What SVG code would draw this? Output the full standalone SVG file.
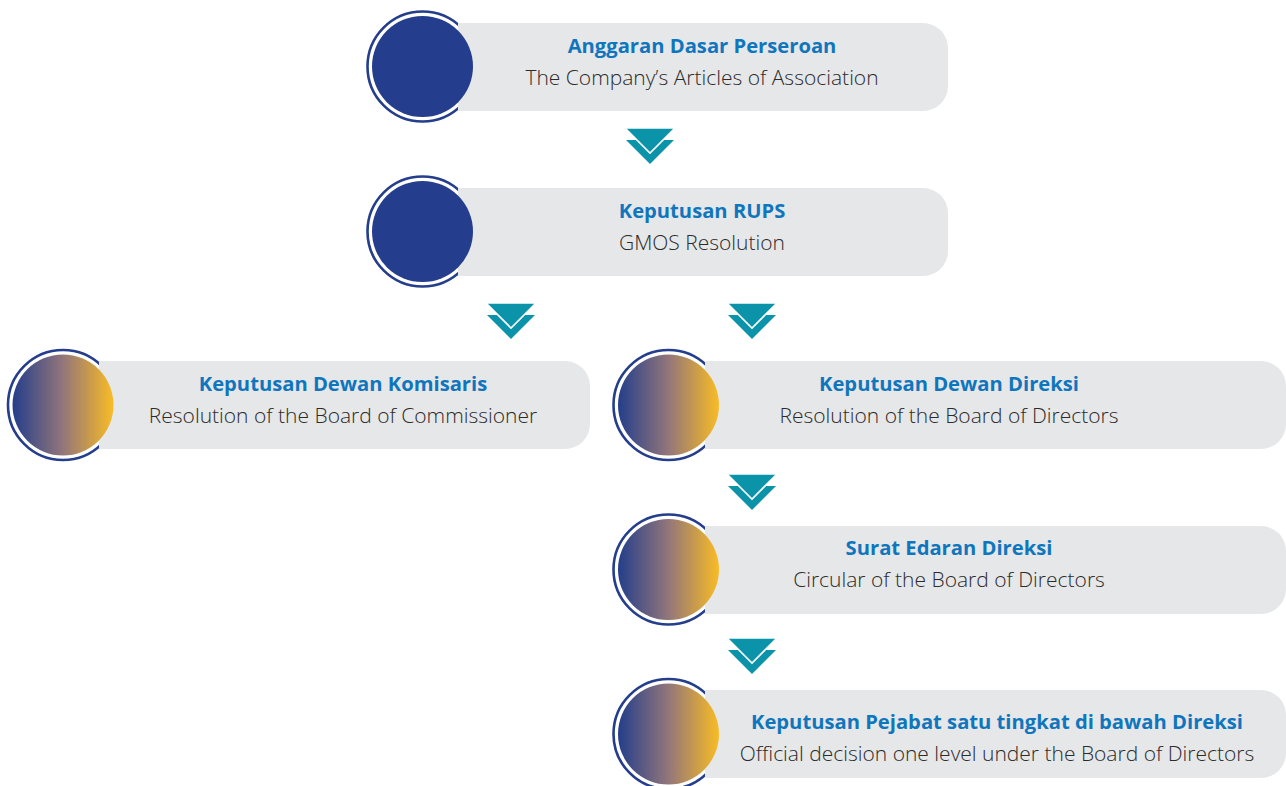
<svg xmlns="http://www.w3.org/2000/svg" xmlns:xlink="http://www.w3.org/1999/xlink" width="1286" height="786" viewBox="0 0 1286 786">
  <style>
    .ring { fill: none; stroke: #243d8c; stroke-width: 2.6; }
    .box { fill: #e6e7e8; }
    .solid { fill: #243d8c; }
    .grad { fill: url(#warm); }
    .title { font-family: "Open Sans", "Noto Sans", "Liberation Sans", sans-serif; font-weight: 700; font-size: 20.2px; fill: #0f76bd; text-anchor: middle; }
    .sub { font-family: "Open Sans", "Noto Sans", "Liberation Sans", sans-serif; font-weight: 300; font-size: 21px; fill: #2b2b2b; text-anchor: middle; }
    .arrow { fill: #0b94a9; }
    .arrow-top { fill: #0b94a9; stroke: #ffffff; stroke-width: 1.6; stroke-linejoin: miter; }
  </style>
  <defs>
    <linearGradient id="warm" x1="0" y1="0" x2="1" y2="0">
      <stop offset="0" stop-color="#243e8b"/>
      <stop offset="0.5" stop-color="#93767a"/>
      <stop offset="1" stop-color="#f8bc25"/>
    </linearGradient>
    <!-- double chevron pointing down, origin at top centre -->
    <g id="chev">
      <polygon class="arrow" points="-24,12 24,12 0,36"/>
      <polygon class="arrow-top" points="-25,0 25,0 0,25"/>
    </g>
  </defs>

  <!-- connectors -->
  <g id="connectors">
    <use xlink:href="#chev" href="#chev" x="650" y="128"/>
    <use xlink:href="#chev" href="#chev" x="511" y="303"/>
    <use xlink:href="#chev" href="#chev" x="752" y="303"/>
    <use xlink:href="#chev" href="#chev" x="752" y="474"/>
    <use xlink:href="#chev" href="#chev" x="752" y="638"/>
  </g>

  <!-- Anggaran Dasar -->
  <g id="node-anggaran">
    <circle class="ring" cx="422.5" cy="66.5" r="55"/>
    <path class="box" d="M458,23 H923 A25,25 0 0 1 948,48 V86 A25,25 0 0 1 923,111 H458 Z"/>
    <circle class="solid" cx="422.5" cy="66.5" r="50.5"/>
    <text class="title" x="702" y="53">Anggaran Dasar Perseroan</text>
    <text class="sub" x="702" y="85">The Company’s Articles of Association</text>
  </g>

  <!-- Keputusan RUPS -->
  <g id="node-rups">
    <circle class="ring" cx="422.5" cy="231.5" r="55"/>
    <path class="box" d="M458,188 H923 A25,25 0 0 1 948,213 V251 A25,25 0 0 1 923,276 H458 Z"/>
    <circle class="solid" cx="422.5" cy="231.5" r="50.5"/>
    <text class="title" x="702" y="218">Keputusan RUPS</text>
    <text class="sub" x="702" y="250">GMOS Resolution</text>
  </g>

  <!-- Dewan Komisaris -->
  <g id="node-komisaris">
    <circle class="ring" cx="63" cy="405" r="55"/>
    <path class="box" d="M99,361 H565 A25,25 0 0 1 590,386 V424 A25,25 0 0 1 565,449 H99 Z"/>
    <circle class="grad" cx="63" cy="405" r="50.5"/>
    <text class="title" x="343" y="391">Keputusan Dewan Komisaris</text>
    <text class="sub" x="343" y="423">Resolution of the Board of Commissioner</text>
  </g>

  <!-- Dewan Direksi -->
  <g id="node-direksi">
    <circle class="ring" cx="668.5" cy="405" r="55"/>
    <path class="box" d="M705,361 H1261 A25,25 0 0 1 1286,386 V424 A25,25 0 0 1 1261,449 H705 Z"/>
    <circle class="grad" cx="668.5" cy="405" r="50.5"/>
    <text class="title" x="949" y="391">Keputusan Dewan Direksi</text>
    <text class="sub" x="949" y="423">Resolution of the Board of Directors</text>
  </g>

  <!-- Surat Edaran -->
  <g id="node-surat-edaran">
    <circle class="ring" cx="668.5" cy="569.5" r="55"/>
    <path class="box" d="M705,526 H1261 A25,25 0 0 1 1286,551 V589 A25,25 0 0 1 1261,614 H705 Z"/>
    <circle class="grad" cx="668.5" cy="569.5" r="50.5"/>
    <text class="title" x="949" y="555">Surat Edaran Direksi</text>
    <text class="sub" x="949" y="587">Circular of the Board of Directors</text>
  </g>

  <!-- Keputusan Pejabat -->
  <g id="node-pejabat">
    <circle class="ring" cx="668.5" cy="734" r="55"/>
    <path class="box" d="M705,690 H1261 A25,25 0 0 1 1286,715 V753 A25,25 0 0 1 1261,778 H705 Z"/>
    <circle class="grad" cx="668.5" cy="734" r="50.5"/>
    <text class="title" x="997" y="729">Keputusan Pejabat satu tingkat di bawah Direksi</text>
    <text class="sub" x="997" y="761">Official decision one level under the Board of Directors</text>
  </g>
</svg>
